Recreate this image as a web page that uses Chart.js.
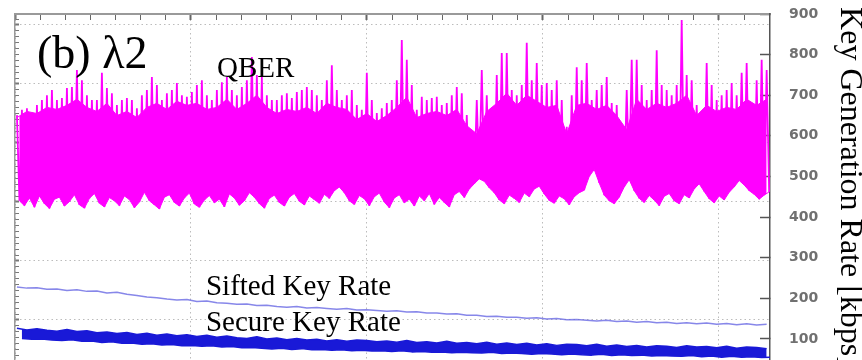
<!DOCTYPE html>
<html>
<head>
<meta charset="utf-8">
<script src="https://cdn.jsdelivr.net/npm/chart.js@4.4.1/dist/chart.umd.min.js"></script>
<style>
html, body { margin: 0; padding: 0; background: #fff; }
#wrap { width: 862px; height: 360px; }
</style>
</head>
<body>
<div id="wrap"><canvas id="keyrate"></canvas></div>
<script>
// sample times, hours from start of the run
var startHour = 0.011;
var qberStep = 0.0284;
var rateStep = 0.0568;

// QBER trace, per-sample peak and trough (read against the right-hand axis)
var qberHigh = [
	651,664,668,656,676,688,700,713,688,693,
	718,720,762,737,700,688,688,755,718,705,
	676,688,693,688,668,700,713,745,725,688,
	705,713,730,700,696,708,725,737,700,688,
	713,732,745,713,700,720,737,794,750,745,
	700,688,688,700,705,693,708,713,720,713,
	700,688,737,774,713,688,700,713,676,664,
	755,688,656,668,681,688,737,836,787,725,
	664,696,688,693,696,676,681,700,720,705,
	651,590,688,762,700,664,750,804,804,713,
	700,725,829,737,779,725,730,713,737,688,
	622,700,769,737,779,688,713,725,745,681,
	676,622,713,787,787,725,688,713,811,725,
	713,700,725,885,750,737,676,656,779,725,
	688,700,713,730,700,755,779,671,737,787,
	762
];
var qberLow = [
	440,428,447,424,452,433,421,444,449,427,
	438,455,430,422,446,458,434,425,448,440,
	428,452,443,423,437,461,440,430,420,449,
	455,436,427,447,459,432,424,442,453,435,
	444,425,457,447,429,440,460,449,433,422,
	446,454,436,427,449,458,439,430,452,443,
	434,456,446,465,474,460,440,431,453,445,
	428,450,459,437,423,447,455,435,444,427,
	452,440,458,431,448,436,425,455,463,448,
	469,482,494,488,472,460,442,433,454,446,
	436,459,450,469,476,457,441,434,452,445,
	430,450,460,466,500,517,484,454,440,433,
	449,474,492,465,446,436,453,442,428,451,
	458,440,433,455,447,469,482,463,445,435,
	452,442,461,474,490,479,465,456,444,454,462
];
// top of the solid part of the QBER trace, every second sample
var qberCore = [
	645,660,655,670,665,675,690,670,660,680,
	650,660,645,670,680,665,685,675,680,665,
	670,690,665,680,700,670,655,665,660,670,
	655,680,670,665,640,655,635,650,670,695,
	645,655,660,650,665,625,605,660,680,705,
	675,700,685,670,675,605,675,680,665,675,
	650,615,690,665,680,670,680,700,650,675,
	660,670,665,690,675,690
];

// sifted key rate [kbps]
var siftedRate = [
	228,225,226,222,223,219,221,217,218,213,
	215,210,207,203,201,198,196,197,192,193,
	189,188,185,186,182,183,180,178,180,176,
	177,175,173,175,171,172,170,168,169,166,
	167,164,164,161,162,158,158,155,156,153,
	153,151,152,149,150,147,148,146,144,146,
	143,144,141,143,140,141,138,140,137,139,
	136,138,135,137,134,136
];

// secure key rate [kbps], upper and lower edge of the noisy trace
var secureHigh = [
	126,122,125,121,119,123,118,120,115,117,
	113,116,111,114,109,112,108,110,106,109,
	104,107,103,101,105,100,102,98,101,97,
	99,95,98,94,97,96,93,95,92,96,
	91,93,90,94,89,91,88,92,87,90,
	86,89,85,88,84,87,86,83,87,82,
	85,81,84,80,83,82,79,83,80,81,
	78,82,77,80,79,76
];
var secureLow = [
	101,99,100,97,96,98,94,95,91,93,
	89,90,87,88,85,86,83,84,82,83,
	80,81,78,79,77,75,77,74,76,73,
	74,72,73,71,72,70,71,69,71,68,
	69,67,68,66,67,66,65,67,64,65,
	64,62,64,63,61,63,61,60,62,59,
	61,59,60,58,59,58,57,59,56,58,
	55,57,55,56,54,55
];

var rateTicks = [100, 200, 300, 400, 500, 600, 700, 800, 900];
var hourMajor = [0, 1, 2, 3, 4];
var qberMajor = [0, 1, 2, 3, 4, 5, 6];

var notes = [
	{text: '(b) \u03bb2', hour: 0.125, rate: 767, size: 46},
	{text: 'QBER', hour: 1.148, rate: 745, size: 29},
	{text: 'Sifted Key Rate', hour: 1.085, rate: 208, size: 29},
	{text: 'Secure Key Rate', hour: 1.085, rate: 119, size: 29}
];

var hourMax = 4.29;
var qberMin = 0.322, qberMax = 6.186;

function withMinor(major, per, lo, hi) {
	var out = [];
	major.forEach(function(m){
		for (var j = 0; j < per; j++) {
			var v = m + j / per;
			if (v >= lo && v <= hi) out.push({value: v, major: j === 0});
		}
	});
	return out;
}

function zigzag(high, low, step) {
	var pts = [];
	var n = Math.min(high.length, low.length);
	for (var i = 0; i < n; i++) {
		var t = startHour + i * step;
		pts.push({x: t, y: high[i]});
		pts.push({x: t + step / 2, y: low[i]});
	}
	return pts;
}

function series(values, step, shift) {
	return values.map(function(v, i){
		return {x: startHour + (shift || 0) + i * step, y: v};
	});
}

var notesPlugin = {
	id: 'notes',
	afterDatasetsDraw: function(chart) {
		var ctx = chart.ctx;
		ctx.save();
		ctx.fillStyle = '#000';
		ctx.textBaseline = 'alphabetic';
		ctx.textAlign = 'left';
		notes.forEach(function(n){
			ctx.font = n.size + 'px "Liberation Serif", "Times New Roman", serif';
			ctx.fillText(n.text, chart.scales.x.getPixelForValue(n.hour), chart.scales.y.getPixelForValue(n.rate));
		});
		ctx.restore();
	}
};

function majorColor(c) {
	return c.tick && c.tick.major ? '#bcbcbc' : 'rgba(0,0,0,0)';
}
function majorWidth(c) {
	return c.tick && c.tick.major ? 2 : 1;
}
function noPad(s) {
	s.paddingTop = 0; s.paddingBottom = 0; s.paddingLeft = 0; s.paddingRight = 0;
}

var magenta = '#ff00ff';
var deepBlue = 'rgb(25, 25, 215)';

var ctx = document.getElementById('keyrate').getContext('2d');
var keyChart = new Chart(ctx, {
	type: 'line',
	data: {
		datasets: [
			{
				label: 'QBER body',
				data: series(qberCore, qberStep * 2),
				borderColor: magenta,
				borderWidth: 1,
				backgroundColor: magenta,
				fill: '+1',
				xAxisID: 'x',
				yAxisID: 'y'
			},
			{
				label: 'QBER low',
				data: series(qberLow, qberStep, qberStep / 2),
				borderColor: magenta,
				borderWidth: 1,
				xAxisID: 'x',
				yAxisID: 'y'
			},
			{
				label: 'QBER',
				data: zigzag(qberHigh, qberLow, qberStep),
				borderColor: magenta,
				borderWidth: 1.8,
				xAxisID: 'x',
				yAxisID: 'y'
			},
			{
				label: 'Sifted Key Rate',
				data: series(siftedRate, rateStep),
				borderColor: 'rgba(95, 95, 225, 0.75)',
				borderWidth: 1.5,
				xAxisID: 'x',
				yAxisID: 'y'
			},
			{
				label: 'Secure Key Rate',
				data: series(secureHigh, rateStep),
				borderColor: deepBlue,
				borderWidth: 1.5,
				backgroundColor: deepBlue,
				fill: '+1',
				xAxisID: 'x',
				yAxisID: 'y'
			},
			{
				label: 'Secure low',
				data: series(secureLow, rateStep, rateStep / 2),
				borderColor: deepBlue,
				borderWidth: 1.5,
				xAxisID: 'x',
				yAxisID: 'y'
			}
		]
	},
	options: {
		responsive: true,
		maintainAspectRatio: false,
		animation: false,
		layout: {padding: 0},
		plugins: {
			legend: {display: false},
			tooltip: {enabled: false}
		},
		elements: {
			point: {radius: 0},
			line: {tension: 0, borderJoinStyle: 'bevel', fill: false}
		},
		scales: {
			x: {
				type: 'linear',
				position: 'top',
				min: 0,
				max: hourMax,
				afterBuildTicks: function(s){ s.ticks = withMinor(hourMajor, 7, 0, hourMax); },
				afterFit: function(s){ s.height = 14; noPad(s); },
				ticks: {display: false},
				grid: {color: majorColor, lineWidth: 1, tickLength: -6, tickColor: '#666', tickWidth: majorWidth},
				border: {color: '#9a9a9a', width: 2, dash: [1.5, 3]}
			},
			y: {
				type: 'linear',
				position: 'right',
				min: 48,
				max: 900,
				afterBuildTicks: function(s){ s.ticks = rateTicks.map(function(v){ return {value: v}; }); },
				afterFit: function(s){ s.width = 92; noPad(s); },
				ticks: {
					padding: 29,
					color: '#707070',
					font: {family: 'DejaVu Sans', size: 14, weight: 'bold'}
				},
				grid: {drawOnChartArea: false, tickLength: -10, tickColor: '#555', tickWidth: 1.5},
				border: {color: '#555', width: 1.5},
				title: {
					display: true,
					text: 'Key Generation Rate [kbps]',
					color: '#000',
					padding: 0,
					font: {family: 'Liberation Serif', size: 32, lineHeight: 0.8}
				}
			},
			yl: {
				axis: 'y',
				type: 'linear',
				position: 'left',
				min: qberMin,
				max: qberMax,
				afterBuildTicks: function(s){ s.ticks = withMinor(qberMajor, 10, qberMin, qberMax); },
				afterFit: function(s){ s.width = 15; noPad(s); },
				ticks: {display: false},
				grid: {color: majorColor, lineWidth: 1, tickLength: -4, tickColor: '#777', tickWidth: majorWidth},
				border: {color: '#9a9a9a', width: 1.5, dash: [1.5, 3]}
			}
		}
	},
	plugins: [notesPlugin]
});
</script>
</body>
</html>
